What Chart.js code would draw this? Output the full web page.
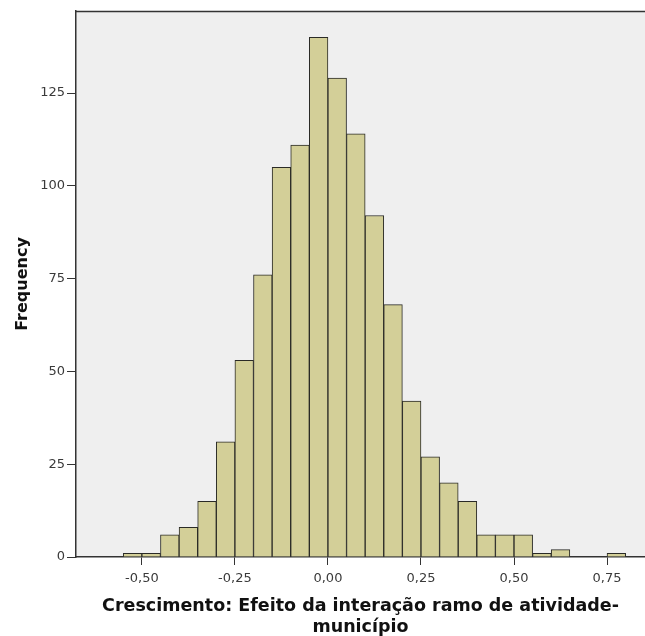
<!DOCTYPE html>
<html>
<head>
<meta charset="utf-8">
<script src="https://cdn.jsdelivr.net/npm/chart.js@4"></script>
<style>
html,body{margin:0;padding:0;background:#fff;}
#wrap{width:645px;height:636px;position:relative;}
</style>
</head>
<body>
<div id="wrap"><canvas id="c" width="645" height="636"></canvas></div>
<script>
// Histogram bins (centers, width 0.05) and frequencies
const binCenters = [-0.525,-0.475,-0.425,-0.375,-0.325,-0.275,-0.225,-0.175,-0.125,-0.075,-0.025,
                     0.025, 0.075, 0.125, 0.175, 0.225, 0.275, 0.325, 0.375, 0.425, 0.475, 0.525,
                     0.575, 0.625, 0.675, 0.725, 0.775];
const frequencies = [1,1,6,8,15,31,53,76,105,111,140,129,114,92,68,42,27,20,15,6,6,6,1,2,0,0,1];
const xTicks = [-0.5,-0.25,0,0.25,0.5,0.75];
const yTicks = [0,25,50,75,100,125];
const xTitle = ['Crescimento: Efeito da interação ramo de atividade-','município'];
const yTitle = 'Frequency';

const plotBg = {
  id:'plotBg',
  beforeDraw(chart){
    const {ctx, chartArea:a} = chart;
    ctx.save();
    ctx.fillStyle = '#efefef';
    ctx.fillRect(a.left, a.top, a.right-a.left, a.bottom-a.top);
    ctx.restore();
  },
  afterDraw(chart){
    const {ctx, chartArea:a} = chart;
    ctx.save();
    ctx.strokeStyle = '#333';
    ctx.lineWidth = 1.5;
    ctx.beginPath();
    ctx.moveTo(a.left, a.top+0.5);
    ctx.lineTo(a.right, a.top+0.5);
    ctx.stroke();
    ctx.restore();
  }
};

const fmt = v => v.toFixed(2).replace('.', ',');

new Chart(document.getElementById('c'), {
  type:'bar',
  data:{
    datasets:[{
      data: binCenters.map((x,i)=>({x:x, y:frequencies[i]})),
      backgroundColor:'#d3cf98',
      borderColor:'#2a2a26',
      borderWidth:1,
      barPercentage:1,
      categoryPercentage:1
    }]
  },
  options:{
    responsive:false,
    animation:false,
    devicePixelRatio:1,
    layout:{padding:{top:11,right:0,left:0,bottom:0}},
    plugins:{legend:{display:false},tooltip:{enabled:false}},
    scales:{
      x:{
        type:'linear',
        offset:false,
        min:-0.677,
        max:0.852,
        afterBuildTicks(s){ s.ticks = xTicks.map(v=>({value:v})); },
        afterFit(s){ s.height = 79; },
        ticks:{
          callback:(v)=>fmt(v),
          font:{family:'DejaVu Sans', size:13},
          color:'#3a3a3a',
          padding:6,
          maxRotation:0,
          autoSkip:false
        },
        grid:{display:true, drawOnChartArea:false, drawTicks:true, tickLength:8, tickColor:'#333', offset:false},
        border:{display:true, color:'#333', width:1.5},
        title:{display:true, text:xTitle, font:{family:'DejaVu Sans', size:17.5, weight:'bold', lineHeight:'21px'}, color:'#111', padding:{top:0,bottom:-1.5}}
      },
      y:{
        type:'linear',
        min:0,
        max:147.1,
        afterBuildTicks(s){ s.ticks = yTicks.map(v=>({value:v})); },
        afterFit(s){ s.width = 76; },
        ticks:{
          font:{family:'DejaVu Sans', size:13},
          color:'#3a3a3a',
          padding:2
        },
        grid:{display:true, drawOnChartArea:false, drawTicks:true, tickLength:9, tickColor:'#333'},
        border:{display:true, color:'#333', width:1.5},
        title:{display:true, text:yTitle, font:{family:'DejaVu Sans', size:16, weight:'bold'}, color:'#111', padding:{top:13,bottom:0}}
      }
    }
  },
  plugins:[plotBg]
});
</script>
</body>
</html>
